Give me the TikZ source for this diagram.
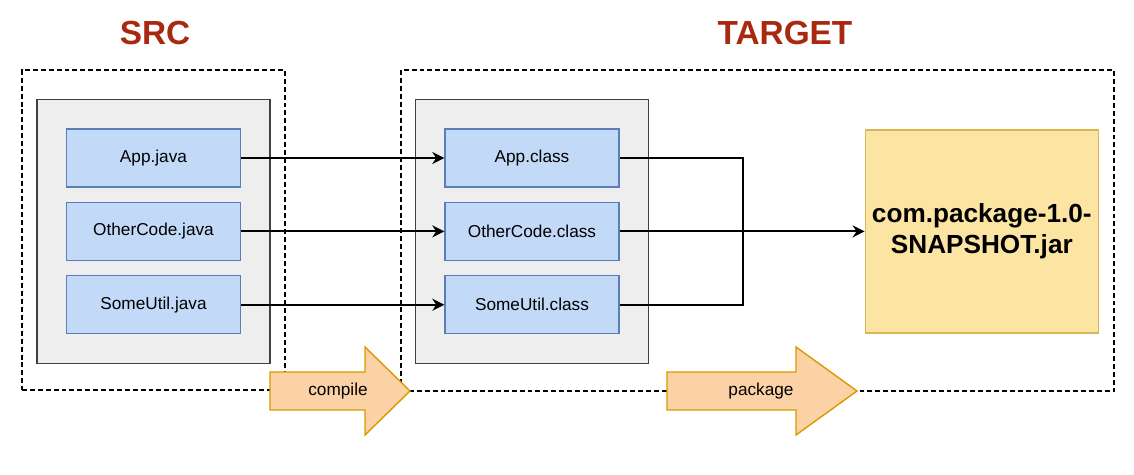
\documentclass[tikz,border=0pt]{standalone}
\usepackage{fontspec}
\setmainfont{Liberation Sans}
\usetikzlibrary{arrows.meta,positioning,fit,backgrounds}
\definecolor{titlered}{HTML}{A8290F}
\definecolor{filefill}{HTML}{C3D9F8}
\definecolor{fileline}{HTML}{5C7DB8}
\definecolor{dirfill}{HTML}{EEEEEE}
\definecolor{dirline}{HTML}{404040}
\definecolor{jarfill}{HTML}{FCE4A3}
\definecolor{jarline}{HTML}{D6B656}
\definecolor{stepfill}{HTML}{FBD1A6}
\definecolor{stepline}{HTML}{D79B00}

\begin{document}
\begin{tikzpicture}[
  x=0.02cm,y=-0.02cm,
  node distance=0.28cm,
  title/.style={text=titlered,font=\fontsize{19}{22}\selectfont\bfseries},
  file/.style={draw=fileline,fill=filefill,line width=0.8pt,minimum width=3.48cm,minimum height=1.16cm,inner sep=0pt,font=\fontsize{9.8}{12}\selectfont},
  dir/.style={draw=dirline,fill=dirfill,line width=0.9pt,inner sep=0.58cm},
  zone/.style={draw=black,line width=0.85pt,dash pattern=on 2.8pt off 1.7pt,inner sep=0pt},
  jar/.style={draw=jarline,fill=jarfill,line width=0.8pt,minimum width=4.66cm,minimum height=4.06cm,align=center,font=\fontsize{14.9}{18}\selectfont\bfseries},
  link/.style={line width=1.1pt},
  arrow/.style={link,-{Stealth[length=2.4mm,width=2.4mm]}},
  stepshape/.style={draw=stepline,fill=stepfill,line width=0.8pt,line join=miter},
  steplabel/.style={font=\fontsize{9.8}{12}\selectfont}
]
\useasboundingbox (0,0) rectangle (1134,475);

\node[title] (srctitle) at (155,33) {SRC};
\node[title] (tgttitle) at (785,33) {TARGET};

% sources
\node[file] (appj) at (153.5,158) {App.java};
\node[file,below=of appj] (otherj) {OtherCode.java};
\node[file,below=of otherj] (utilj) {SomeUtil.java};

% compiled classes
\node[file] (appc) at (532,158) {App.class};
\node[file,below=of appc] (otherc) {OtherCode.class};
\node[file,below=of otherc] (utilc) {SomeUtil.class};

\node[jar,right=4.9cm of otherc] (jar) {com.package-1.0-\\SNAPSHOT.jar};

\begin{scope}[on background layer]
  \node[zone,fit={(22,70) (285,390)}] (srczone) {};
  \node[zone,fit={(401,70) (1114,391)}] (tgtzone) {};
  \node[dir,fit=(appj)(utilj)] (srcdir) {};
  \node[dir,fit=(appc)(utilc)] (tgtdir) {};
\end{scope}

\draw[arrow] (appj) -- (appc);
\draw[arrow] (otherj) -- (otherc);
\draw[arrow] (utilj) -- (utilc);
\draw[link] (appc.east) -- ++(123,0) |- (utilc.east);
\draw[arrow] (otherc.east) -- (jar.west);

% build steps
\draw[stepshape] (270,372) -- (365,372) -- (365,347) -- (410,391) -- (365,435) -- (365,410) -- (270,410) -- cycle;
\node[steplabel] (compile) at (338,391) {compile};
\draw[stepshape] (667,372) -- (796,372) -- (796,347) -- (857,391) -- (796,435) -- (796,410) -- (667,410) -- cycle;
\node[steplabel] (package) at (761,391) {package};
\end{tikzpicture}
\end{document}
